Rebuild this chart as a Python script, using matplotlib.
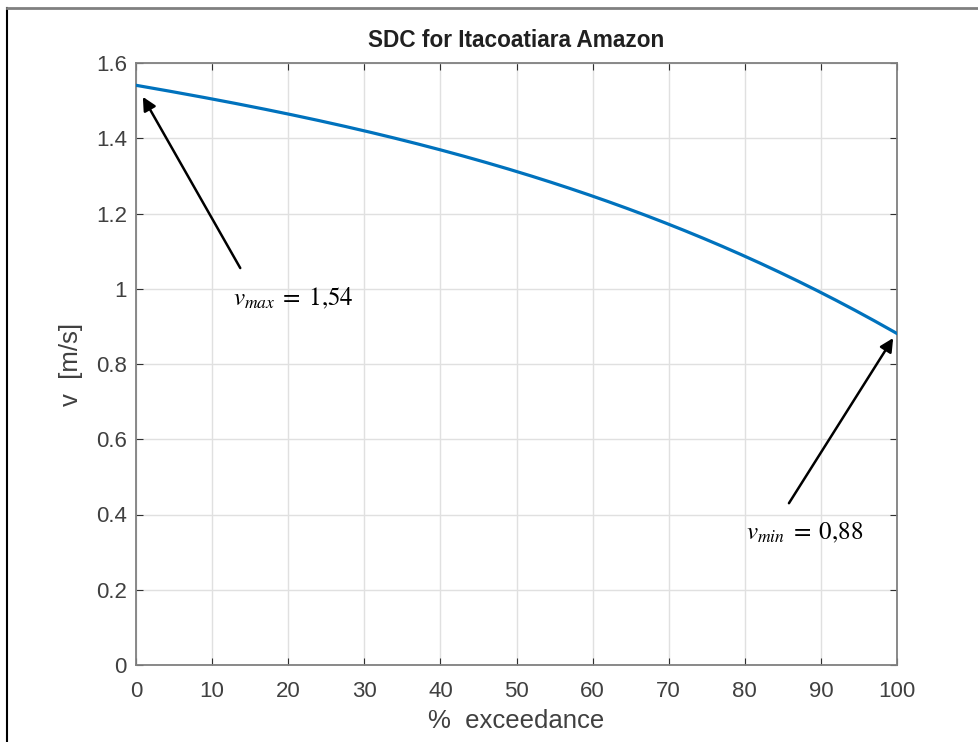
import matplotlib
matplotlib.use("Agg")
import matplotlib.pyplot as plt
import numpy as np
from matplotlib.lines import Line2D

exceedance = [0, 10, 20, 30, 40, 50, 60, 70, 80, 90, 100]
velocity = [1.54, 1.505, 1.465, 1.42, 1.37, 1.31, 1.245, 1.17, 1.09, 0.99, 0.88]
xticks = [0, 10, 20, 30, 40, 50, 60, 70, 80, 90, 100]
yticks = [0, 0.2, 0.4, 0.6, 0.8, 1, 1.2, 1.4, 1.6]
ytick_labels = ["0", "0.2", "0.4", "0.6", "0.8", "1", "1.2", "1.4", "1.6"]

plt.rcParams['font.family'] = ['Liberation Sans', 'DejaVu Sans']
plt.rcParams['mathtext.fontset'] = 'stix'

fig = plt.figure(figsize=(9.79, 7.42), dpi=100)
W, H = 979, 742
ax = fig.add_axes([136 / W, 1 - 665 / H, (897 - 136) / W, (665 - 63) / H])

# smooth curve through read points
xs = np.linspace(0, 100, 201)
coef = np.polyfit(exceedance, velocity, 3)
ax.plot(xs, np.polyval(coef, xs), color=(0, 0.447, 0.741), lw=2.3, zorder=3)

ax.set_xlim(0, 100)
ax.set_ylim(0, 1.6)
ax.set_xticks(xticks)
ax.set_yticks(yticks)
ax.set_yticklabels(ytick_labels)
ax.grid(True, color='#e0e0e0', lw=1.0)
ax.set_axisbelow(True)
for s in ax.spines.values():
    s.set_color('#808080')
    s.set_linewidth(1.3)
ax.tick_params(direction='in', top=True, right=True, length=5, colors='#303030',
               labelsize=16, labelcolor='#404040')
ax.tick_params(axis='x', pad=11.5)
ax.tick_params(axis='y', pad=6.5)
ax.set_xlabel('%  exceedance', fontsize=18.5, color='#404040', labelpad=5)
ax.set_ylabel('v  [m/s]', fontsize=18.5, color='#404040', labelpad=9)
ax.set_title('SDC for Itacoatiara Amazon', fontsize=16.3, fontweight='bold', color='#202020', pad=11.5)

arrow = dict(arrowstyle='-|>', color='black', lw=1.8, mutation_scale=20, shrinkA=0, shrinkB=0)
ax.annotate('', xy=(0.9, 1.51), xytext=(13.7, 1.055), arrowprops=arrow)
ax.annotate('', xy=(99.5, 0.869), xytext=(85.8, 0.43), arrowprops=arrow)
ax.text(12.7, 0.975, r'$v_{max}\;=\;1{,}54$', fontsize=18, va='center', ha='left')
ax.text(80.2, 0.35, r'$v_{min}\;=\;0{,}88$', fontsize=18, va='center', ha='left')

# figure frame lines
fig.add_artist(Line2D([7 / W, 7 / W], [0, 1 - 8 / H], transform=fig.transFigure, color='black', lw=1.5))
fig.add_artist(Line2D([7 / W, 1], [1 - 8 / H, 1 - 8 / H], transform=fig.transFigure, color='#808080', lw=2))

fig.savefig('out.png', dpi=100)
